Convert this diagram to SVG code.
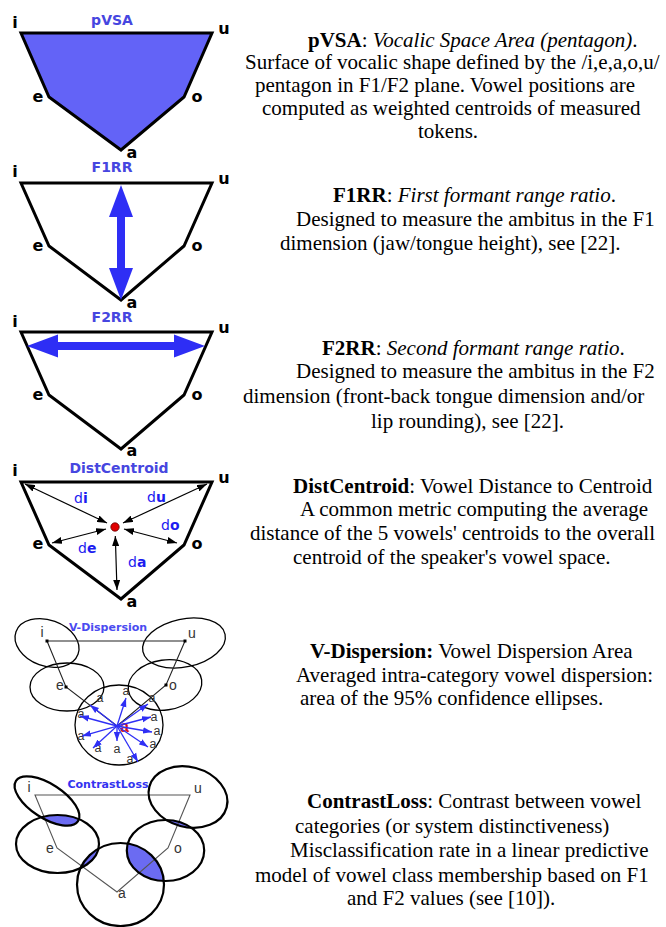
<svg xmlns="http://www.w3.org/2000/svg" width="666" height="927" viewBox="0 0 666 927">
<style>
.pent{fill:none;stroke:#000;stroke-width:3;stroke-linejoin:miter}
.v{font-family:"DejaVu Sans",Verdana,sans-serif;font-weight:bold;font-size:16px;fill:#000;text-anchor:middle}
.ttl{font-family:"DejaVu Sans",Verdana,sans-serif;font-weight:bold;font-size:14px;fill:#4646e0;text-anchor:middle}
.desc{font-family:"Liberation Serif","Times New Roman",serif;font-size:21px;fill:#000}
.b{font-weight:bold}
.it{font-style:italic}
.dl{font-family:"DejaVu Sans",Verdana,sans-serif;font-size:14px;fill:#1c1cf0}
.thin{fill:none;stroke:#222;stroke-width:1.1}
.ell{fill:none;stroke:#000;stroke-width:1.3}
.ell2{fill:none;stroke:#000;stroke-width:2.2}
.gl{font-family:"Liberation Sans",Arial,sans-serif;font-size:14px;fill:#333;text-anchor:middle}
.al{font-family:"Liberation Sans",Arial,sans-serif;font-size:12.5px;fill:#333;text-anchor:middle}
.ba{stroke:#2f2ff5;stroke-width:1.3;fill:none;marker-end:url(#bh)}
.ka{stroke:#000;stroke-width:1.2;fill:none;marker-start:url(#kh);marker-end:url(#kh)}
.ov{fill:#6b6bf2}
.big{fill:#2e2ef5}
.pt{fill:#000}
</style>
<defs>
<marker id="kh" viewBox="0 0 10 7" refX="10" refY="3.5" markerWidth="10" markerHeight="7" markerUnits="userSpaceOnUse" orient="auto-start-reverse"><path d="M0,0 L10,3.5 L0,7 z" fill="#000"/></marker>
<marker id="bh" viewBox="0 0 10 7" refX="10" refY="3.5" markerWidth="9" markerHeight="7" markerUnits="userSpaceOnUse" orient="auto"><path d="M0,0 L10,3.5 L0,7 z" fill="#2f2ff5"/></marker>
<clipPath id="c6i"><ellipse cx="47" cy="801" rx="37" ry="17" transform="rotate(33 47 801)"/></clipPath>
<clipPath id="c6u"><ellipse cx="188" cy="797" rx="40" ry="30" transform="rotate(15 188 797)"/></clipPath>
<clipPath id="c6a"><ellipse cx="120.5" cy="884.5" rx="43.5" ry="41.5"/></clipPath>
</defs>
<rect width="666" height="927" fill="#fff"/>

<g id="panel-pvsa">
<polygon class="pent" points="21,33 212,33 184,97 121,150 49,97" style="fill:#6363f7"/>
<text class="ttl" x="112" y="25">pVSA</text>
<text class="v" x="15" y="28">i</text>
<text class="v" x="224" y="34">u</text>
<text class="v" x="38" y="102">e</text>
<text class="v" x="197" y="102">o</text>
<text class="v" x="132" y="158">a</text>
</g>

<g id="panel-f1rr">
<polygon class="pent" points="21,183 212,183 184,246 121,300 49,246"/>
<path class="big" d="M121,185 L133,217 L125,217 L125,268 L133,268 L121,300 L109,268 L117,268 L117,217 L109,217 Z"/>
<text class="ttl" x="112" y="172">F1RR</text>
<text class="v" x="15" y="177">i</text>
<text class="v" x="224" y="184">u</text>
<text class="v" x="38" y="251">e</text>
<text class="v" x="197" y="251">o</text>
<text class="v" x="132" y="308">a</text>
</g>

<g id="panel-f2rr">
<polygon class="pent" points="21,332 212,332 184,395 121,449 49,395"/>
<path class="big" d="M27,346 L58,334.5 L58,342 L174,342 L174,334.5 L205,346 L174,357.5 L174,350 L58,350 L58,357.5 Z"/>
<text class="ttl" x="112" y="322">F2RR</text>
<text class="v" x="15" y="327">i</text>
<text class="v" x="224" y="333">u</text>
<text class="v" x="38" y="400">e</text>
<text class="v" x="197" y="400">o</text>
<text class="v" x="132" y="456">a</text>
</g>

<g id="panel-distcentroid">
<polygon class="pent" points="21,482 212,482 184,545 121,599 49,545"/>
<text class="ttl" x="119" y="473">DistCentroid</text>
<text class="v" x="15" y="476">i</text>
<text class="v" x="224" y="483">u</text>
<text class="v" x="38" y="549">e</text>
<text class="v" x="197" y="549">o</text>
<text class="v" x="132" y="607">a</text>
<text class="dl" x="74" y="503">d<tspan class="b">i</tspan></text>
<text class="dl" x="147" y="502">d<tspan class="b">u</tspan></text>
<text class="dl" x="161" y="530">d<tspan class="b">o</tspan></text>
<text class="dl" x="78" y="553">d<tspan class="b">e</tspan></text>
<text class="dl" x="128" y="567">d<tspan class="b">a</tspan></text>
</g>

<g id="panel-vdispersion">
<ellipse class="ell" cx="47" cy="643" rx="33" ry="23" transform="rotate(20 47 643)"/>
<ellipse class="ell" cx="184" cy="643" rx="42" ry="24" transform="rotate(-12 184 643)"/>
<ellipse class="ell" cx="67" cy="687" rx="37" ry="24"/>
<ellipse class="ell" cx="165" cy="685" rx="37" ry="25" transform="rotate(-8 165 685)"/>
<ellipse class="ell" cx="119" cy="725" rx="44" ry="40"/>
<polygon class="thin" points="47,641 185,641 166,685 117,726 66,687"/>
<rect class="pt" x="45.5" y="639.5" width="3" height="3"/>
<rect class="pt" x="183.5" y="639.5" width="3" height="3"/>
<rect class="pt" x="64.5" y="685.5" width="3" height="3"/>
<rect class="pt" x="164.5" y="683.5" width="3" height="3"/>
<text class="ttl" x="108" y="631" style="font-size:11px;fill:#4a4af0">V-Dispersion</text>
<text class="gl" x="42" y="637">i</text>
<text class="gl" x="192" y="638">u</text>
<text class="gl" x="60" y="690">e</text>
<text class="gl" x="173" y="690">o</text>
<text class="al" x="100" y="702">a</text>
<text class="al" x="126" y="695">a</text>
<text class="al" x="152" y="702">a</text>
<text class="al" x="81" y="718">a</text>
<text class="al" x="154" y="721">a</text>
<text class="al" x="157" y="735">a</text>
<text class="al" x="81" y="740">a</text>
<text class="al" x="153" y="748">a</text>
<text class="al" x="98" y="752">a</text>
<text class="al" x="117" y="753">a</text>
<text class="al" x="130" y="763">a</text>
<text x="124.5" y="732" style="font-family:'Liberation Sans',Arial,sans-serif;font-size:16px;font-weight:bold;fill:#e01010;text-anchor:middle">a</text>
</g>

<g id="panel-contrastloss">
<g clip-path="url(#c6i)"><ellipse class="ov" cx="57.5" cy="844" rx="41.5" ry="29"/></g>
<g clip-path="url(#c6u)"><ellipse class="ov" cx="165.5" cy="850.5" rx="38.7" ry="30.5"/></g>
<g clip-path="url(#c6a)"><ellipse class="ov" cx="57.5" cy="844" rx="41.5" ry="29"/><ellipse class="ov" cx="165.5" cy="850.5" rx="38.7" ry="30.5"/></g>
<polygon class="thin" points="35,795 190,795 168,848 117,892 57,848" style="stroke:#555"/>
<ellipse class="ell2" cx="47" cy="801" rx="37" ry="17" transform="rotate(33 47 801)"/>
<ellipse class="ell2" cx="188" cy="797" rx="40" ry="30" transform="rotate(15 188 797)"/>
<ellipse class="ell2" cx="57.5" cy="844" rx="41.5" ry="29"/>
<ellipse class="ell2" cx="165.5" cy="850.5" rx="38.7" ry="30.5"/>
<ellipse class="ell2" cx="120.5" cy="884.5" rx="43.5" ry="41.5"/>
<text class="ttl" x="108" y="788" style="font-size:11px;fill:#3333f0">ContrastLoss</text>
<text class="gl" x="29" y="792">i</text>
<text class="gl" x="198" y="793">u</text>
<text class="gl" x="50" y="853">e</text>
<text class="gl" x="178" y="853">o</text>
<text class="gl" x="122" y="898">a</text>
</g>

<g id="connectors">
<line class="ka" x1="107" y1="523" x2="25" y2="484"/>
<line class="ka" x1="123" y1="523" x2="207" y2="484"/>
<line class="ka" x1="106" y1="529" x2="52" y2="543"/>
<line class="ka" x1="124" y1="529" x2="177" y2="543"/>
<line class="ka" x1="115.3" y1="536" x2="117" y2="590"/>
<line class="ba" x1="117" y1="726" x2="90" y2="705"/>
<line class="ba" x1="117" y1="726" x2="126" y2="698"/>
<line class="ba" x1="117" y1="726" x2="148" y2="704"/>
<line class="ba" x1="117" y1="726" x2="80" y2="716"/>
<line class="ba" x1="117" y1="726" x2="151" y2="717"/>
<line class="ba" x1="117" y1="726" x2="152" y2="732"/>
<line class="ba" x1="117" y1="726" x2="82" y2="736"/>
<line class="ba" x1="117" y1="726" x2="148" y2="747"/>
<line class="ba" x1="117" y1="726" x2="93" y2="748"/>
<line class="ba" x1="117" y1="726" x2="117" y2="741"/>
<line class="ba" x1="117" y1="726" x2="138" y2="762"/>
</g>
<g id="centroid">
<circle cx="115" cy="527" r="4.2" fill="#e00000" stroke="#600" stroke-width="0.8"/>
</g>

<g id="desc-pvsa" class="desc">
<text x="308" y="47"><tspan class="b">pVSA</tspan>: <tspan class="it">Vocalic Space Area (pentagon)</tspan>.</text>
<text x="245" y="69">Surface of vocalic shape defined by the /i,e,a,o,u/</text>
<text x="255" y="92">pentagon in F1/F2 plane. Vowel positions are</text>
<text x="262" y="115">computed as weighted centroids of measured</text>
<text x="418" y="138">tokens.</text>
</g>
<g id="desc-f1rr" class="desc">
<text x="333" y="202"><tspan class="b">F1RR</tspan>: <tspan class="it">First formant range ratio</tspan>.</text>
<text x="296" y="226">Designed to measure the ambitus in the F1</text>
<text x="280" y="250">dimension (jaw/tongue height), see [22].</text>
</g>
<g id="desc-f2rr" class="desc">
<text x="322" y="355"><tspan class="b">F2RR</tspan>: <tspan class="it">Second formant range ratio</tspan>.</text>
<text x="296" y="378">Designed to measure the ambitus in the F2</text>
<text x="243" y="403">dimension (front-back tongue dimension and/or</text>
<text x="371" y="428">lip rounding), see [22].</text>
</g>
<g id="desc-distcentroid" class="desc">
<text x="293" y="493"><tspan class="b">DistCentroid</tspan>: Vowel Distance to Centroid</text>
<text x="300" y="516">A common metric computing the average</text>
<text x="250" y="540">distance of the 5 vowels' centroids to the overall</text>
<text x="293" y="564">centroid of the speaker's vowel space.</text>
</g>
<g id="desc-vdispersion" class="desc">
<text x="310" y="658"><tspan class="b">V-Dispersion:</tspan> Vowel Dispersion Area</text>
<text x="296" y="682">Averaged intra-category vowel dispersion:</text>
<text x="300" y="705">area of the 95% confidence ellipses.</text>
</g>
<g id="desc-contrastloss" class="desc">
<text x="307" y="808"><tspan class="b">ContrastLoss</tspan>: Contrast between vowel</text>
<text x="295" y="833">categories (or system distinctiveness)</text>
<text x="290" y="857">Misclassification rate in a linear predictive</text>
<text x="255" y="882">model of vowel class membership based on F1</text>
<text x="347" y="905">and F2 values (see [10]).</text>
</g>
</svg>
